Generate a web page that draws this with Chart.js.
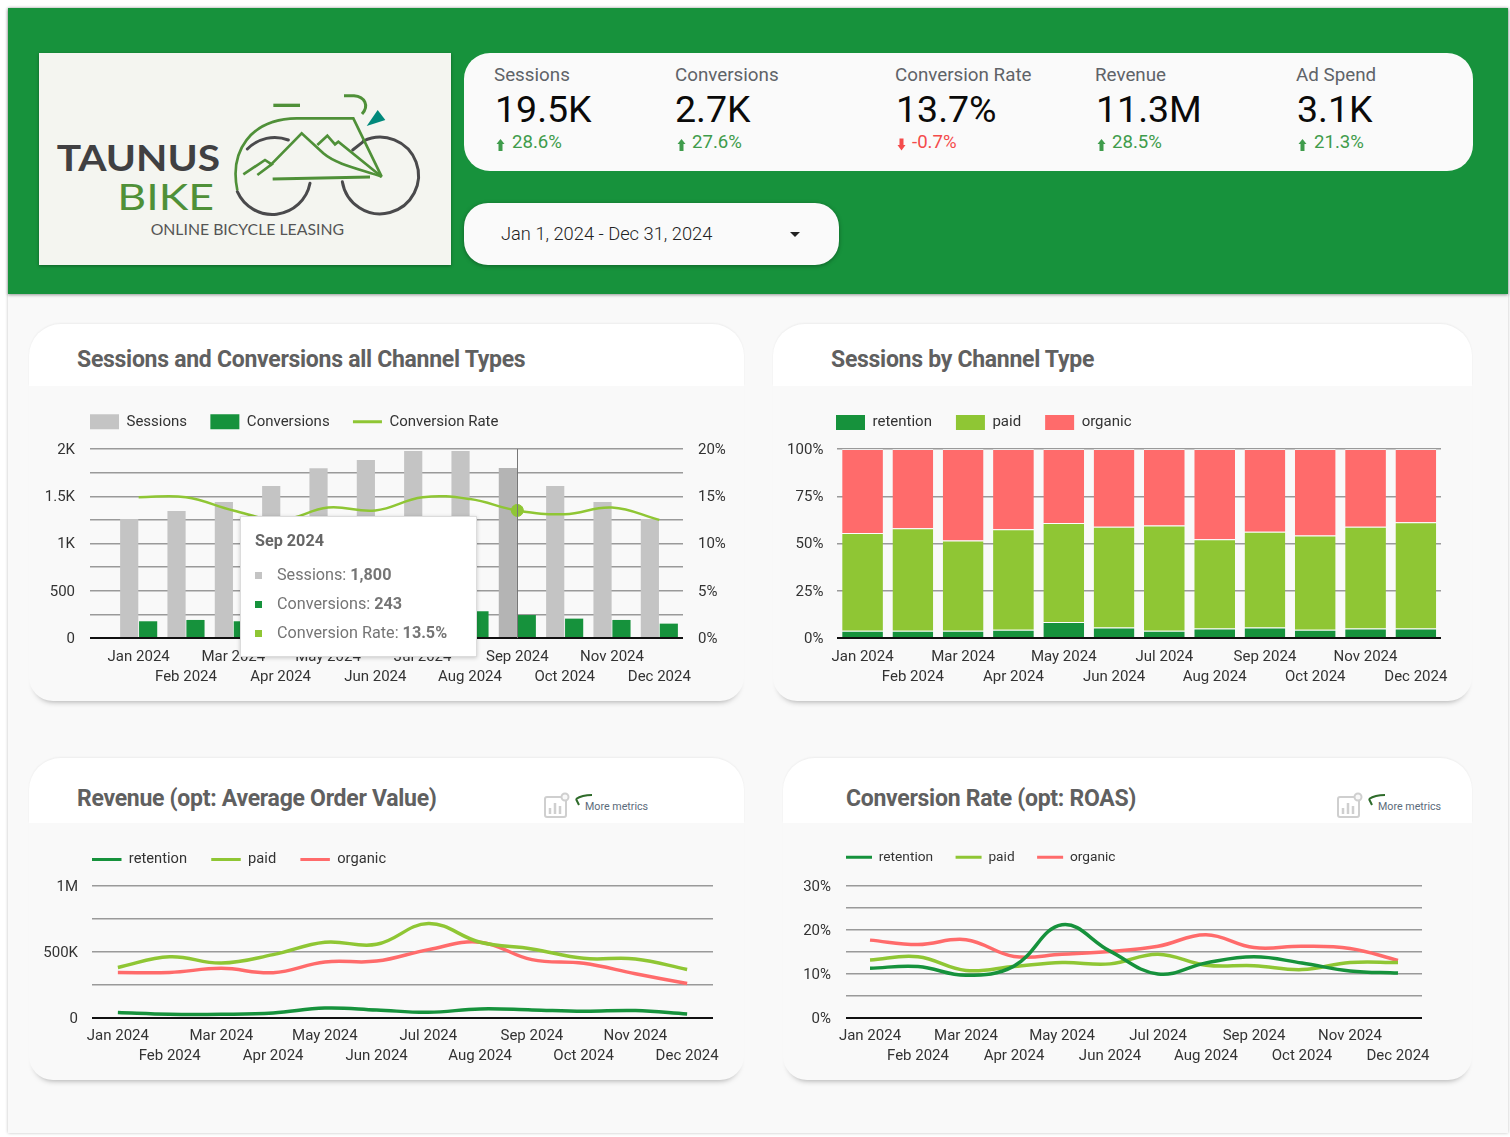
<!DOCTYPE html>
<html>
<head>
<meta charset="utf-8">
<title>Taunus Bike</title>
<script src="https://cdn.jsdelivr.net/npm/chart.js@4"></script>
<style>
  html, body { margin: 0; padding: 0; background: #fff; font-family: Roboto, sans-serif; }
  body { width: 1510px; height: 1137px; position: relative; overflow: hidden; }
  .abs { position: absolute; }
  #page { left: 8px; top: 8px; width: 1500px; height: 1125px; background: #f9f9f9; box-shadow: 0 0 3px rgba(0,0,0,.25); }
  #head { left: 8px; top: 8px; width: 1500px; height: 286px; background: #17923c; box-shadow: 0 1px 3px rgba(0,0,0,.4); }
  #logo { left: 39px; top: 53px; width: 412px; height: 212px; background: #f4f5f0; box-shadow: 0 1px 3px rgba(0,0,0,.35); }
  #kpi { left: 464px; top: 53px; width: 1009px; height: 118px; background: #fafafa; border-radius: 26px; }
  #date { left: 464px; top: 203px; width: 375px; height: 62px; background: #fafafa; border-radius: 24px; box-shadow: 0 1px 4px rgba(0,0,0,.35); }
  #date span { position: absolute; left: 37px; top: 20px; font-size: 18.3px; font-weight: 300; line-height: 22px; color: #222; }
  #date i { position: absolute; left: 326px; top: 29px; border: 5px solid transparent; border-top-color: #222; border-bottom: 0; }
  .k-label { font-size: 18.8px; line-height: 24px; color: #5f6368; top: 63px; }
  .k-val { font-size: 37.5px; line-height: 44px; color: #0a0a0a; top: 87px; }
  .k-delta { font-size: 18.6px; line-height: 22px; top: 131px; }
  .card { background: #f9f9f9; border-radius: 32px 32px 24px 24px; box-shadow: 0 6px 6px -6px rgba(0,0,0,.4); }
  .card .top { position: absolute; left: 0; top: 0; right: 0; background: #fff; border-radius: 32px 32px 0 0; box-shadow: 0 -1px 2px rgba(0,0,0,.05); }
  .title { position: absolute; font-size: 23px; line-height: 28px; font-weight: 700; color: #606060; letter-spacing: -.28px; white-space: nowrap; }
  .more { font-size: 10.7px; line-height: 12px; color: #5b6b7b; white-space: nowrap; }
  canvas { position: absolute; }
  #tip { left: 240px; top: 516px; width: 237px; height: 141px; background: #fff; border: 1px solid #dcdcdc; box-sizing: border-box; box-shadow: 0 1px 4px rgba(0,0,0,.2); color: #757575; font-size: 16.2px; }
  #tip b { font-weight: 700; }
  #tip .t { position: absolute; left: 14px; top: 14px; line-height: 20px; font-weight: 700; color: #666; }
  #tip .r { position: absolute; left: 36px; line-height: 20px; white-space: nowrap; }
  #tip .s { position: absolute; left: 14px; width: 7px; height: 7px; }
</style>
</head>
<body>
<div class="abs" id="page"></div>
<div class="abs" id="head"></div>
<div class="abs" id="logo"></div>
<svg class="abs" style="left:30px;top:45px" width="430" height="230" viewBox="0 0 1290 690" fill="none">
  <g stroke="#4a4a4c" stroke-width="9" stroke-linecap="round">
    <path d="M652 312 A115 115 0 0 1 775 285"/>
    <path d="M622 440 A115 115 0 0 0 840 415"/>
    <path d="M1000 288 A115 115 0 1 1 937 410"/>
    <path d="M968 315 L1000 290"/>
  </g>
  <g stroke="#4f9038" stroke-width="8" stroke-linejoin="miter">
    <path d="M622 436 C598 320 660 222 800 220 L970 220 L1055 395 L925 290 L915 298 L892 272 L862 300"/>
    <path d="M640 388 L705 345 L725 358 L682 390"/>
    <path d="M720 362 L815 265 L880 325 C920 360 1000 375 1055 395"/>
    <path d="M728 402 L1020 396" stroke-width="9"/>
    <path d="M730 181 H810" stroke-width="10"/>
    <path d="M942 152 H972 C1005 155 1018 182 996 207" stroke-width="9"/>
  </g>
  <path d="M1043 195 L1066 225 L1010 243 Z" fill="#00897b"/>
  <g font-family="Lato, sans-serif">
    <text x="80" y="378" font-size="108" font-weight="700" fill="#404042" textLength="490" lengthAdjust="spacingAndGlyphs">TAUNUS</text>
    <text x="262" y="495" font-size="112" fill="#4f9038" textLength="290" lengthAdjust="spacingAndGlyphs">BIKE</text>
    <text x="362" y="569" font-size="44" fill="#555" textLength="580" lengthAdjust="spacingAndGlyphs">ONLINE BICYCLE LEASING</text>
  </g>
</svg>

<div class="abs" id="kpi"></div>
<div class="abs k-label" style="left:494px">Sessions</div>
<div class="abs k-val" style="left:495px">19.5K</div>
<div class="abs k-label" style="left:675px">Conversions</div>
<div class="abs k-val" style="left:675px">2.7K</div>
<div class="abs k-label" style="left:895px">Conversion Rate</div>
<div class="abs k-val" style="left:896px">13.7%</div>
<div class="abs k-label" style="left:1095px">Revenue</div>
<div class="abs k-val" style="left:1096px">11.3M</div>
<div class="abs k-label" style="left:1296px">Ad Spend</div>
<div class="abs k-val" style="left:1297px">3.1K</div>

<div class="abs k-delta" style="left:512px;color:#3f9c4b">28.6%</div>
<div class="abs k-delta" style="left:692px;color:#3f9c4b">27.6%</div>
<div class="abs k-delta" style="left:912px;color:#f44b4b">-0.7%</div>
<div class="abs k-delta" style="left:1112px;color:#3f9c4b">28.5%</div>
<div class="abs k-delta" style="left:1314px;color:#3f9c4b">21.3%</div>
<svg class="abs" style="left:0;top:0" width="1510" height="170" fill="#3f9c4b">
  <path d="M496.500 144 L500.500 139 L504.500 144 L502.500 144 V151 H498.500 V144 Z"/>
  <path d="M677.500 144 L681.500 139 L685.500 144 L683.500 144 V151 H679.500 V144 Z"/>
  <path d="M897.500 145 L901.500 150.500 L905.500 145 L903.500 145 V138.500 H899.500 V145 Z" fill="#f44b4b"/>
  <path d="M1097.500 144 L1101.500 139 L1105.500 144 L1103.500 144 V151 H1099.500 V144 Z"/>
  <path d="M1298.500 144 L1302.500 139 L1306.500 144 L1304.500 144 V151 H1300.500 V144 Z"/>
</svg>

<div class="abs" id="date"><span>Jan 1, 2024 - Dec 31, 2024</span><i></i></div>

<div class="abs card" style="left:29px;top:324px;width:715px;height:377px"><div class="top" style="height:62px"></div><div class="title" style="left:48px;top:22px">Sessions and Conversions all Channel Types</div></div>
<div class="abs card" style="left:773px;top:324px;width:699px;height:377px"><div class="top" style="height:62px"></div><div class="title" style="left:58px;top:22px">Sessions by Channel Type</div></div>
<div class="abs card" style="left:29px;top:758px;width:715px;height:322px"><div class="top" style="height:65px"></div><div class="title" style="left:48px;top:27px">Revenue (opt: Average Order Value)</div></div>
<div class="abs card" style="left:783px;top:758px;width:689px;height:322px"><div class="top" style="height:65px"></div><div class="title" style="left:63px;top:27px">Conversion Rate (opt: ROAS)</div></div>

<svg class="abs" style="left:540px;top:790px" width="115" height="32" fill="none">
  <rect x="5" y="7" width="21" height="20" rx="2" stroke="#cfcfcf" stroke-width="2"/>
  <path d="M10 24 V18 M15 24 V13 M20 24 V16" stroke="#cfcfcf" stroke-width="2.500"/>
  <circle cx="25" cy="7" r="3.500" fill="#f9f9f9" stroke="#cfcfcf" stroke-width="2"/>
  <path d="M52 5 C44 5 39 7 36 9 M36 9 L39 15" stroke="#2e6b2a" stroke-width="2"/>
</svg>
<div class="abs more" style="left:585px;top:801px">More metrics</div>
<svg class="abs" style="left:1333px;top:790px" width="115" height="32" fill="none">
  <rect x="5" y="7" width="21" height="20" rx="2" stroke="#cfcfcf" stroke-width="2"/>
  <path d="M10 24 V18 M15 24 V13 M20 24 V16" stroke="#cfcfcf" stroke-width="2.500"/>
  <circle cx="25" cy="7" r="3.500" fill="#f9f9f9" stroke="#cfcfcf" stroke-width="2"/>
  <path d="M52 5 C44 5 39 7 36 9 M36 9 L39 15" stroke="#2e6b2a" stroke-width="2"/>
</svg>
<div class="abs more" style="left:1378px;top:801px">More metrics</div>

<canvas id="c1" width="710" height="300" style="left:30px;top:390px"></canvas>
<canvas id="c2" width="695" height="300" style="left:775px;top:390px"></canvas>
<canvas id="c3" width="710" height="240" style="left:30px;top:827px"></canvas>
<canvas id="c4" width="680" height="240" style="left:785px;top:827px"></canvas>
<div class="abs" id="tip"></div>

<script>
var months = ["Jan 2024","Feb 2024","Mar 2024","Apr 2024","May 2024","Jun 2024","Jul 2024","Aug 2024","Sep 2024","Oct 2024","Nov 2024","Dec 2024"];

var sessions = [1258,1343,1438,1608,1795,1883,1979,1979,1800,1608,1438,1258];
var conversions = [177,191,177,210,240,250,270,283,243,205,191,152];
var convRate = [14.9,14.9,13.5,12.5,13.8,13.5,14.9,14.7,13.5,13.1,13.8,12.5];

var shareRetention = [3.9,3.9,3.9,4.4,8.5,5.6,3.9,5,5.6,4.4,5,5];
var sharePaid = [51.6,54.2,47.7,53.2,52.3,53.2,55.6,47.3,50.6,49.8,53.8,56.3];
var shareOrganic = [44.5,41.9,48.4,42.4,39.2,41.2,40.5,47.7,43.8,45.8,41.2,38.7];

var revRetention = [41000,28000,28000,38000,76000,61000,43000,69000,61000,51000,56000,30000];
var revPaid = [383000,464000,416000,480000,574000,558000,716000,574000,523000,452000,447000,368000];
var revOrganic = [345000,345000,376000,343000,424000,431000,518000,574000,442000,414000,335000,261000];

var rateRetention = [11.3,11.7,9.7,11.8,21.2,15.2,10,12.5,13.9,12.5,10.7,10.2];
var ratePaid = [13.2,13.9,10.8,11.7,12.6,12.3,14.5,12,11.9,11,12.6,12.6];
var rateOrganic = [17.7,16.7,17.8,14,14.5,15.1,16.3,18.9,16,16.3,15.8,13.1];

var GREEN = "#16923c", LIME = "#8fc634", RED = "#ff6b6b", GREY = "#c4c4c4";
var GRID = "#9a9a9a", TEXT = "#333";
var FONT = "Roboto";

Chart.defaults.font.family = FONT;
Chart.defaults.animation = false;

// fixed legend height so the plot top lands where it should, legend nudged over the y axis box
var legendFit = {
  id: "legendFit",
  beforeLayout: function (chart, args, opts) {
    var lg = chart.legend;
    if (lg && !lg.patched) {
      var fit = lg.fit, draw = lg.draw;
      lg.fit = function () { fit.call(this); this.height = 59; };
      lg.draw = function () {
        this.ctx.save();
        this.ctx.translate(opts.dx, opts.dy);
        draw.call(this);
        this.ctx.restore();
      };
      lg.patched = true;
    }
  }
};

function legendOpts(size, boxW, gap) {
  return {
    position: "top", align: "start",
    labels: {
      font: { size: size }, boxHeight: 15, usePointStyle: true, pointStyleWidth: boxW, padding: gap,
      generateLabels: function (chart) {
        return chart.data.datasets.map(function (d, i) {
          var isLine = d.type === "line" || chart.config.type === "line";
          return { text: d.label, fontColor: TEXT, fillStyle: d.legendColor, strokeStyle: d.legendColor,
            lineWidth: isLine ? 3 : 0, pointStyle: isLine ? "line" : "rect", datasetIndex: i, hidden: false };
        });
      }
    }
  };
}

function twoRows(size, pad) {
  return {
    autoSkip: false, maxRotation: 0, minRotation: 0, padding: pad, color: TEXT,
    font: { size: size, lineHeight: 20 / size },
    callback: function (v, i) { return i % 2 === 0 ? [months[i], ""] : ["", months[i]]; }
  };
}

function gridColor(ctx) { return ctx.tick.value === 0 ? "#111" : GRID; }
function gridWidth(ctx) { return ctx.tick.value === 0 ? 2 : 1.5; }

function lineSet(label, data, color, width) {
  return { label: label, data: data, borderColor: color, backgroundColor: color, legendColor: color,
    borderWidth: width, pointRadius: 0, tension: 0.4, clip: false };
}

// tooltip is filled from the chart's own active elements
function drawTip(ctx) {
  var tt = ctx.tooltip, box = document.getElementById("tip");
  if (!tt.dataPoints) return;
  var html = '<div class="t">' + tt.title[0] + "</div>";
  var tops = [48, 77, 106];
  tt.dataPoints.forEach(function (p, i) {
    var val = p.dataset.type === "line" ? p.raw.toFixed(1) + "%" : p.raw.toLocaleString("en-US");
    html += '<div class="s" style="top:' + (tops[i] + 7) + 'px;background:' + p.dataset.legendColor + '"></div>';
    html += '<div class="r" style="top:' + tops[i] + 'px">' + p.dataset.label + ": <b>" + val + "</b></div>";
  });
  box.innerHTML = html;
}

var crosshair = {
  id: "crosshair",
  afterDatasetsDraw: function (chart) {
    var a = chart.getActiveElements();
    if (!a.length) return;
    var c = chart.ctx, x = chart.scales.x.getPixelForValue(a[0].index);
    c.save();
    c.strokeStyle = "#777";
    c.lineWidth = 1;
    c.beginPath();
    c.moveTo(Math.round(x) + 0.5, chart.chartArea.top);
    c.lineTo(Math.round(x) + 0.5, chart.chartArea.bottom);
    c.stroke();
    c.restore();
  }
};

var chart1 = new Chart("c1", {
  type: "bar",
  data: {
    labels: months,
    datasets: [
      { label: "Sessions", data: sessions, backgroundColor: GREY, hoverBackgroundColor: "#b4b4b4", legendColor: GREY, order: 1, yAxisID: "y" },
      { label: "Conversions", data: conversions, backgroundColor: GREEN, hoverBackgroundColor: GREEN, legendColor: GREEN, order: 1, yAxisID: "y" },
      { type: "line", label: "Conversion Rate", data: convRate, borderColor: LIME, backgroundColor: LIME, legendColor: LIME,
        borderWidth: 2.5, pointRadius: 0, pointHoverRadius: 6, pointHoverBackgroundColor: LIME, pointHoverBorderColor: LIME,
        tension: 0.4, order: 0, yAxisID: "y1" }
    ]
  },
  options: {
    responsive: false, events: [],
    layout: { autoPadding: false },
    datasets: { bar: { categoryPercentage: 0.8, barPercentage: 0.96 } },
    plugins: {
      legend: legendOpts(15, 29, 23.3),
      legendFit: { dx: 36.7, dy: 1 },
      tooltip: { enabled: false, external: drawTip, mode: "index" }
    },
    scales: {
      x: { grid: { display: false }, border: { display: false }, ticks: twoRows(15, 1),
        afterFit: function (s) { s.height = 52; } },
      y: { min: 0, max: 2000, border: { display: false },
        grid: { color: gridColor, tickColor: gridColor, lineWidth: gridWidth, tickWidth: gridWidth, tickLength: 25 },
        ticks: { stepSize: 250, autoSkip: false, padding: 15, labelOffset: 1, color: TEXT, font: { size: 15 },
          callback: function (v) { return v % 500 ? "" : v >= 1000 ? v / 1000 + "K" : v; } },
        afterFit: function (s) { s.width = 85; } },
      y1: { position: "right", min: 0, max: 20, border: { display: false },
        grid: { drawOnChartArea: false, drawTicks: false },
        ticks: { stepSize: 5, padding: 15, labelOffset: 1, color: TEXT, font: { size: 15 }, callback: function (v) { return v + "%"; } },
        afterFit: function (s) { s.width = 57; } }
    }
  },
  plugins: [legendFit, crosshair]
});

var sepActive = [0, 1, 2].map(function (d) { return { datasetIndex: d, index: 8 }; });
chart1.setActiveElements(sepActive);
chart1.tooltip.setActiveElements(sepActive, { x: 0, y: 0 });
chart1.update();

new Chart("c2", {
  type: "bar",
  data: {
    labels: months,
    datasets: [
      { label: "retention", data: shareRetention, backgroundColor: GREEN, legendColor: GREEN },
      { label: "paid", data: sharePaid, backgroundColor: LIME, legendColor: LIME },
      { label: "organic", data: shareOrganic, backgroundColor: RED, legendColor: RED }
    ]
  },
  options: {
    responsive: false, events: [],
    layout: { autoPadding: false, padding: { right: 29 } },
    datasets: { bar: { categoryPercentage: 1, barPercentage: 0.81, borderColor: "rgba(255,255,255,.65)", borderWidth: { top: 1 } } },
    plugins: { legend: legendOpts(15, 29, 24), legendFit: { dx: 37, dy: 1 }, tooltip: { enabled: false } },
    scales: {
      x: { stacked: true, grid: { display: false }, border: { display: false }, ticks: twoRows(15, 1),
        afterFit: function (s) { s.height = 52; } },
      y: { stacked: true, min: 0, max: 100, border: { display: false },
        grid: { color: gridColor, lineWidth: gridWidth, drawTicks: false },
        ticks: { stepSize: 25, padding: 14, labelOffset: 1, color: TEXT, font: { size: 15 }, callback: function (v) { return v + "%"; } },
        afterFit: function (s) { s.width = 62.4; } }
    }
  },
  plugins: [legendFit]
});

new Chart("c3", {
  type: "line",
  data: {
    labels: months,
    datasets: [
      lineSet("retention", revRetention, GREEN, 3.5),
      lineSet("paid", revPaid, LIME, 3.5),
      lineSet("organic", revOrganic, RED, 3.5)
    ]
  },
  options: {
    responsive: false, events: [],
    layout: { autoPadding: false, padding: { right: 27 } },
    plugins: { legend: legendOpts(14.7, 29.5, 24.2), legendFit: { dx: 37.8, dy: 1 }, tooltip: { enabled: false } },
    scales: {
      x: { offset: true, grid: { display: false }, border: { display: false }, ticks: twoRows(15, 0),
        afterFit: function (s) { s.height = 49; } },
      y: { min: 0, max: 1000000, border: { display: false },
        grid: { color: gridColor, lineWidth: gridWidth, drawTicks: false },
        ticks: { stepSize: 250000, autoSkip: false, padding: 14, labelOffset: 1, color: TEXT, font: { size: 15 },
          callback: function (v) { return v === 0 ? "0" : v === 500000 ? "500K" : v === 1000000 ? "1M" : ""; } },
        afterFit: function (s) { s.width = 62; } }
    }
  },
  plugins: [legendFit]
});

new Chart("c4", {
  type: "line",
  data: {
    labels: months,
    datasets: [
      lineSet("retention", rateRetention, GREEN, 3.5),
      lineSet("paid", ratePaid, LIME, 3.5),
      lineSet("organic", rateOrganic, RED, 3.5)
    ]
  },
  options: {
    responsive: false, events: [],
    layout: { autoPadding: false, padding: { right: 43 } },
    plugins: { legend: legendOpts(13.7, 26, 22.5), legendFit: { dx: 38.5, dy: 1 }, tooltip: { enabled: false } },
    scales: {
      x: { offset: true, grid: { display: false }, border: { display: false }, ticks: twoRows(15, 0),
        afterFit: function (s) { s.height = 49; } },
      y: { min: 0, max: 30, border: { display: false },
        grid: { color: gridColor, lineWidth: gridWidth, drawTicks: false },
        ticks: { stepSize: 5, autoSkip: false, padding: 15, labelOffset: 1, color: TEXT, font: { size: 15 },
          callback: function (v) { return v % 10 ? "" : v + "%"; } },
        afterFit: function (s) { s.width = 61; } }
    }
  },
  plugins: [legendFit]
});
</script>
</body>
</html>
